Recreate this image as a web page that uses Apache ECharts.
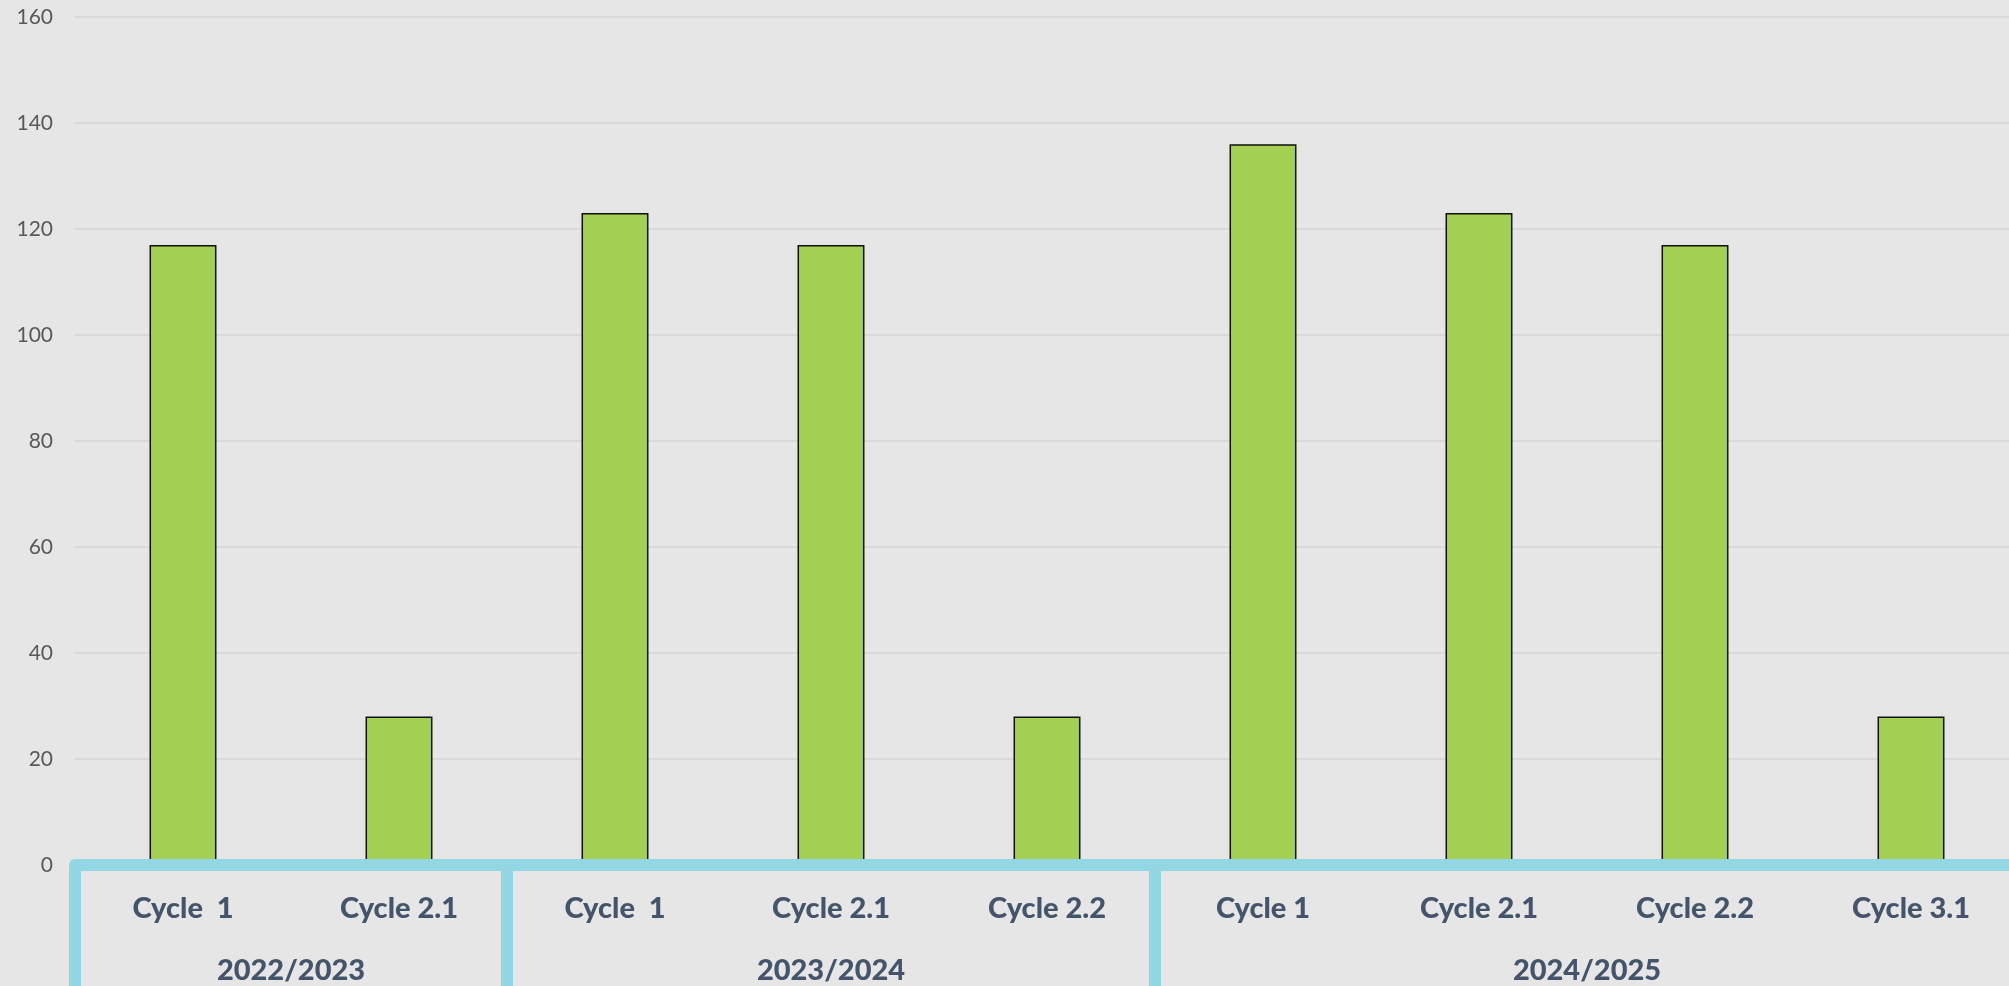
<!DOCTYPE html>
<html>
<head>
<meta charset="utf-8">
<script src="https://cdn.jsdelivr.net/npm/echarts@6/dist/echarts.min.js"></script>
<style>
  html, body { margin: 0; padding: 0; background: #e6e6e6; }
  #chart { width: 2009px; height: 986px; }
</style>
</head>
<body>
<div id="chart"></div>
<script>
// data
var cycles = ['Cycle  1', 'Cycle 2.1', 'Cycle  1', 'Cycle 2.1', 'Cycle 2.2', 'Cycle 1', 'Cycle 2.1', 'Cycle 2.2', 'Cycle 3.1'];
var values = [117, 28, 123, 117, 28, 136, 123, 117, 28];
var years = ['2022/2023', '2023/2024', '2024/2025'];
var yearSizes = [2, 3, 4];
var yTicks = [0, 20, 40, 60, 80, 100, 120, 140, 160];

// half-category points for the year axis: labels at group centres, ticks at group edges
var yearPoints = [];
var yearEdges = [0];
for (var i = 0; i <= cycles.length * 2; i++) yearPoints.push('');
var pos = 0;
for (var g = 0; g < years.length; g++) {
  yearPoints[pos * 2 + yearSizes[g]] = years[g];
  pos += yearSizes[g];
  yearEdges.push(pos * 2);
}

var textColor = '#44546a';
var cyan = '#92d7e3';

var chart = echarts.init(document.getElementById('chart'));
var option = {
  backgroundColor: '#e6e6e6',
  animation: false,
  grid: {
    left: 75,
    width: 1944,
    top: 17,
    bottom: 121,
    containLabel: false,
    outerBoundsMode: 'none'
  },
  xAxis: [{
    type: 'category',
    data: cycles,
    position: 'bottom',
    axisLine: { show: false },
    axisTick: { show: false },
    axisLabel: {
      interval: 0,
      margin: 29,
      color: textColor,
      fontFamily: 'Lato',
      fontWeight: 900,
      fontSize: 29
    }
  }, {
    type: 'category',
    data: yearPoints,
    boundaryGap: false,
    position: 'bottom',
    z: 5,
    axisLine: {
      show: true,
      lineStyle: { color: cyan, width: 12 }
    },
    axisTick: {
      show: true,
      length: 130,
      interval: function (index) {
        return yearEdges.indexOf(index) >= 0;
      },
      lineStyle: { color: cyan, width: 12 }
    },
    axisLabel: {
      interval: 0,
      margin: 91,
      color: textColor,
      fontFamily: 'Lato',
      fontWeight: 900,
      fontSize: 29
    }
  }],
  yAxis: {
    type: 'value',
    min: yTicks[0],
    max: yTicks[yTicks.length - 1],
    interval: yTicks[1] - yTicks[0],
    axisLine: { show: false },
    axisTick: { show: false },
    axisLabel: {
      margin: 22,
      color: '#595959',
      fontFamily: 'Lato',
      fontSize: 21
    },
    splitLine: {
      lineStyle: { color: '#d4d4d4', width: 1.5 }
    }
  },
  series: [{
    type: 'bar',
    data: values,
    barWidth: '31%',
    itemStyle: {
      color: '#a3cf53',
      borderColor: '#111',
      borderWidth: 1.5
    }
  }]
};
chart.setOption(option);
</script>
</body>
</html>
